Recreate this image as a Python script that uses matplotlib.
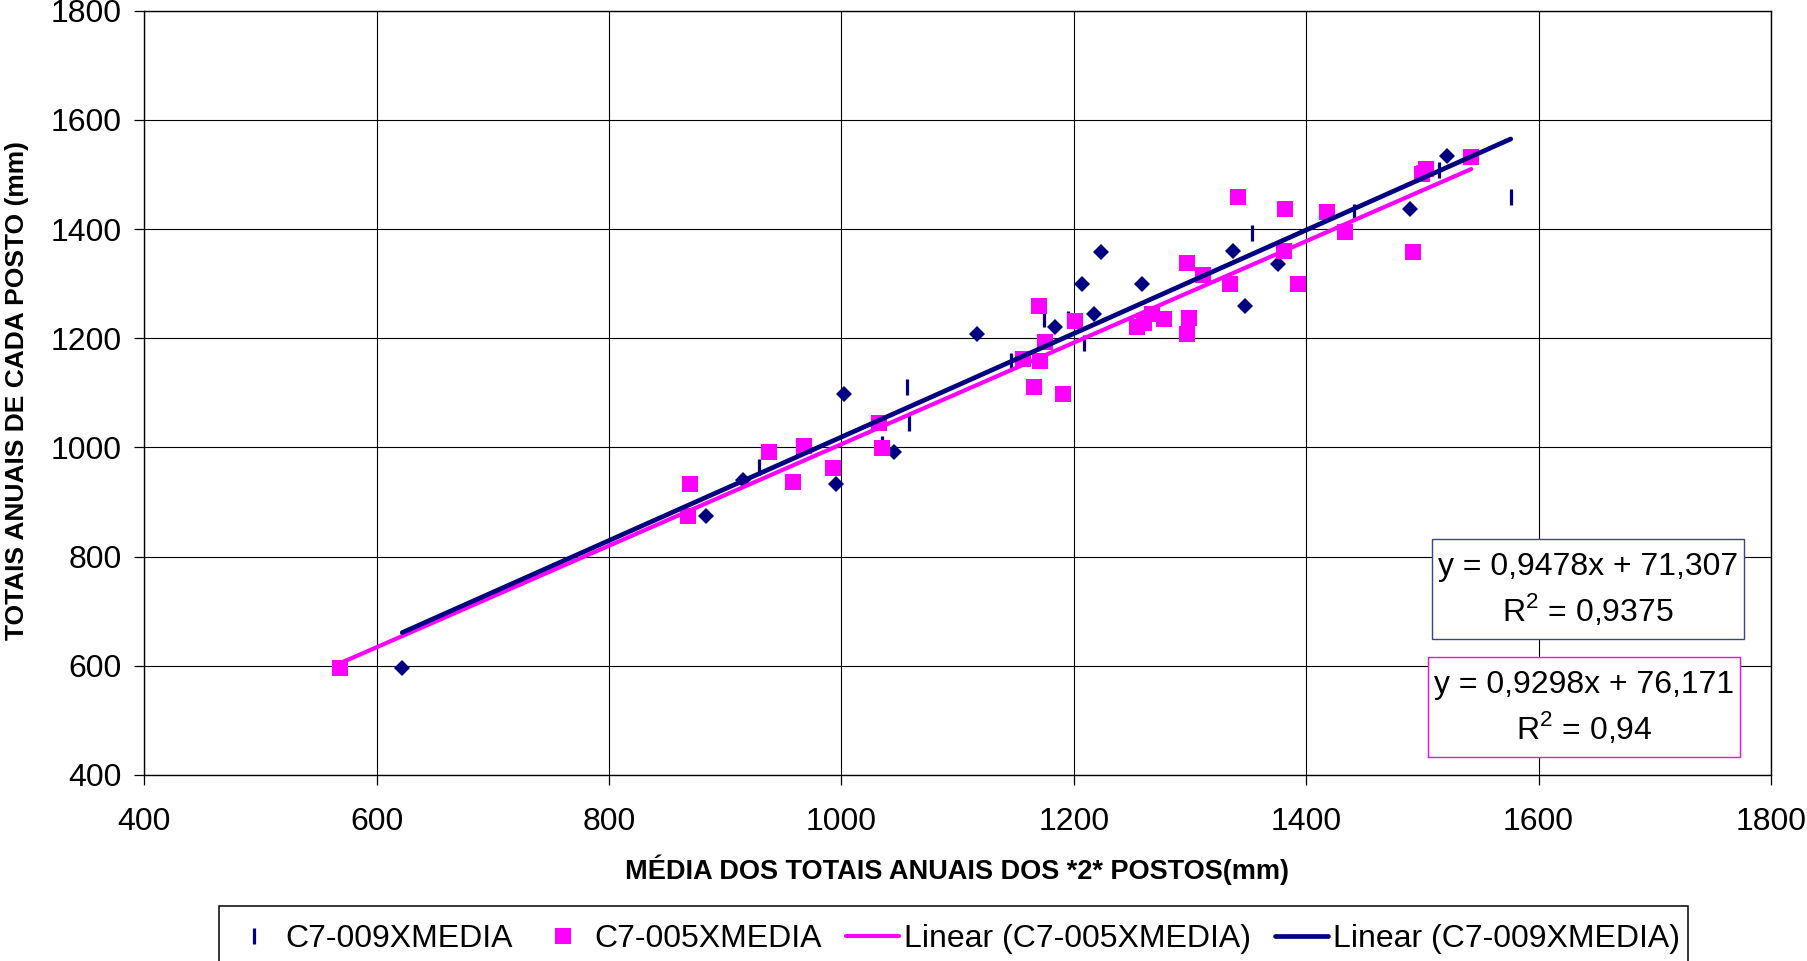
import matplotlib
matplotlib.use("Agg")
import matplotlib.pyplot as plt
from matplotlib.patches import Rectangle

plt.rcParams['font.family'] = ['Liberation Sans', 'DejaVu Sans']

# ---- data -------------------------------------------------------------
# C7-009 station vs. two-station mean (diamond points)
c7_009_diamond_x = [622, 883, 915, 995, 1002, 1045, 1117, 1184, 1207, 1217,
                    1223, 1259, 1337, 1347, 1376, 1489, 1521]
c7_009_diamond_y = [596, 875, 940, 933, 1097, 992, 1207, 1220, 1300, 1244,
                    1358, 1299, 1360, 1260, 1336, 1437, 1533]

# C7-009XMEDIA (dash markers)
c7_009_x = [929, 962, 1035, 1056, 1058, 1146, 1174, 1195, 1209, 1353,
            1441, 1495, 1514, 1576]
c7_009_y = [965, 1001, 1007, 1111, 1045, 1159, 1236, 1236, 1191, 1393,
            1431, 1502, 1509, 1459]

# C7-005XMEDIA
c7_005_x = [568, 868, 870, 938, 958, 968, 993, 1032, 1035, 1156,
            1166, 1170, 1171, 1175, 1191, 1201, 1254, 1260, 1267, 1278,
            1297, 1297, 1299, 1311, 1334, 1341, 1381, 1382, 1393, 1418,
            1433, 1492, 1500, 1503, 1542]
c7_005_y = [596, 875, 933, 992, 937, 1003, 962, 1045, 999, 1162,
            1111, 1260, 1159, 1194, 1097, 1231, 1221, 1228, 1245, 1236,
            1338, 1207, 1238, 1316, 1299, 1459, 1360, 1437, 1300, 1431,
            1394, 1358, 1500, 1510, 1532]

# linear trend coefficients
fit_009 = (0.9478, 71.307, 0.9375)   # slope, intercept, R^2
fit_005 = (0.9298, 76.171, 0.94)

x_ticks = [400, 600, 800, 1000, 1200, 1400, 1600, 1800]
y_ticks = [400, 600, 800, 1000, 1200, 1400, 1600, 1800]

NAVY = '#000080'
MAGENTA = '#FF00FF'

# ---- figure -----------------------------------------------------------
W, H = 1807, 961
fig = plt.figure(figsize=(W / 100, H / 100), dpi=100)
ax = fig.add_axes([144.3 / W, 1 - 775 / H, (1771 - 144.3) / W, (775 - 10.7) / H])

ax.plot(c7_009_diamond_x, c7_009_diamond_y, linestyle='none', marker='D',
        markersize=8.6, color=NAVY, markeredgewidth=0, zorder=3,
        label='_nolegend_')
h009, = ax.plot(c7_009_x, c7_009_y, linestyle='none', marker='|',
                markersize=11, markeredgewidth=2.3, color=NAVY, zorder=2.5,
                label='C7-009XMEDIA')
h005, = ax.plot(c7_005_x, c7_005_y, linestyle='none', marker='s',
                markersize=11.8, color=MAGENTA, markeredgewidth=0, zorder=3.5,
                label='C7-005XMEDIA')

# trend lines over the full x range of each series
x009_all = c7_009_diamond_x + c7_009_x
x009 = [min(x009_all), max(x009_all)]
x005 = [min(c7_005_x), max(c7_005_x)]
t005, = ax.plot(x005, [fit_005[0] * v + fit_005[1] for v in x005],
                color=MAGENTA, lw=3.0, solid_capstyle='round', zorder=4,
                label='Linear (C7-005XMEDIA)')
t009, = ax.plot(x009, [fit_009[0] * v + fit_009[1] for v in x009],
                color=NAVY, lw=3.4, solid_capstyle='round', zorder=4.5,
                label='Linear (C7-009XMEDIA)')

ax.set_xlim(x_ticks[0], x_ticks[-1])
ax.set_ylim(y_ticks[0], y_ticks[-1])
ax.set_xticks(x_ticks)
ax.set_yticks(y_ticks)
ax.grid(True, color='#000000', lw=0.8)
ax.set_axisbelow(True)
for s in ax.spines.values():
    s.set_color('black')
    s.set_linewidth(1.0)
ax.tick_params(axis='both', direction='out', length=7.2, width=0.9,
               labelsize=23, colors='black')
ax.tick_params(axis='x', pad=16)
ax.tick_params(axis='y', pad=9)

fig.text(957 / W, 1 - 870 / H, 'MÉDIA DOS TOTAIS ANUAIS DOS *2* POSTOS(mm)',
         ha='center', va='center', fontsize=19.5, fontweight='bold')
fig.text(17 / W, 1 - 391 / H, 'TOTAIS ANUAIS DE CADA POSTO (mm)',
         ha='center', va='center', rotation=90, fontsize=19, fontweight='bold')


def fmt(v, spec):
    return format(v, spec).replace('.', ',')


# equation boxes (pixel extents: left, top, right, bottom)
boxes = [
    (fit_009, (1432.3, 539, 1744.3, 639), '#404090'),
    (fit_005, (1428.3, 657.3, 1740.3, 757.3), MAGENTA),
]
for (slope, icpt, r2), (x0, y0, x1, y1), ec in boxes:
    fig.patches.append(Rectangle((x0 / W, 1 - y1 / H), (x1 - x0) / W,
                                 (y1 - y0) / H, transform=fig.transFigure,
                                 facecolor='white', edgecolor=ec, lw=1.0,
                                 zorder=5))
    cx = (x0 + x1) / 2 / W
    cy = (y0 + y1) / 2
    fig.text(cx, 1 - (cy - 22) / H,
             f'y = {fmt(slope, ".4f")}x + {fmt(icpt, ".3f")}',
             ha='center', va='center', fontsize=23, zorder=6)
    fig.text(cx, 1 - (cy + 21) / H,
             'R$^{\\mathregular{2}}$ = ' + fmt(r2, 'g'),
             ha='center', va='center', fontsize=23, zorder=6)

# legend frame (runs past the bottom edge of the figure)
fig.patches.append(Rectangle((219 / W, -0.02), (1688 - 219) / W,
                             0.02 + (961 - 906) / H, transform=fig.transFigure,
                             facecolor='white', edgecolor='black', lw=1.1,
                             zorder=1))
leg = fig.legend(handles=[h009, h005, t005, t009], loc='upper center',
                 bbox_to_anchor=(953.5 / W, 1 - 906 / H),
                 bbox_transform=fig.transFigure, ncol=4, fontsize=23,
                 frameon=False, borderaxespad=0,
                 handlelength=1.66, handletextpad=0.15, columnspacing=0.75,
                 borderpad=0.57)

fig.savefig('out.png', dpi=100)
